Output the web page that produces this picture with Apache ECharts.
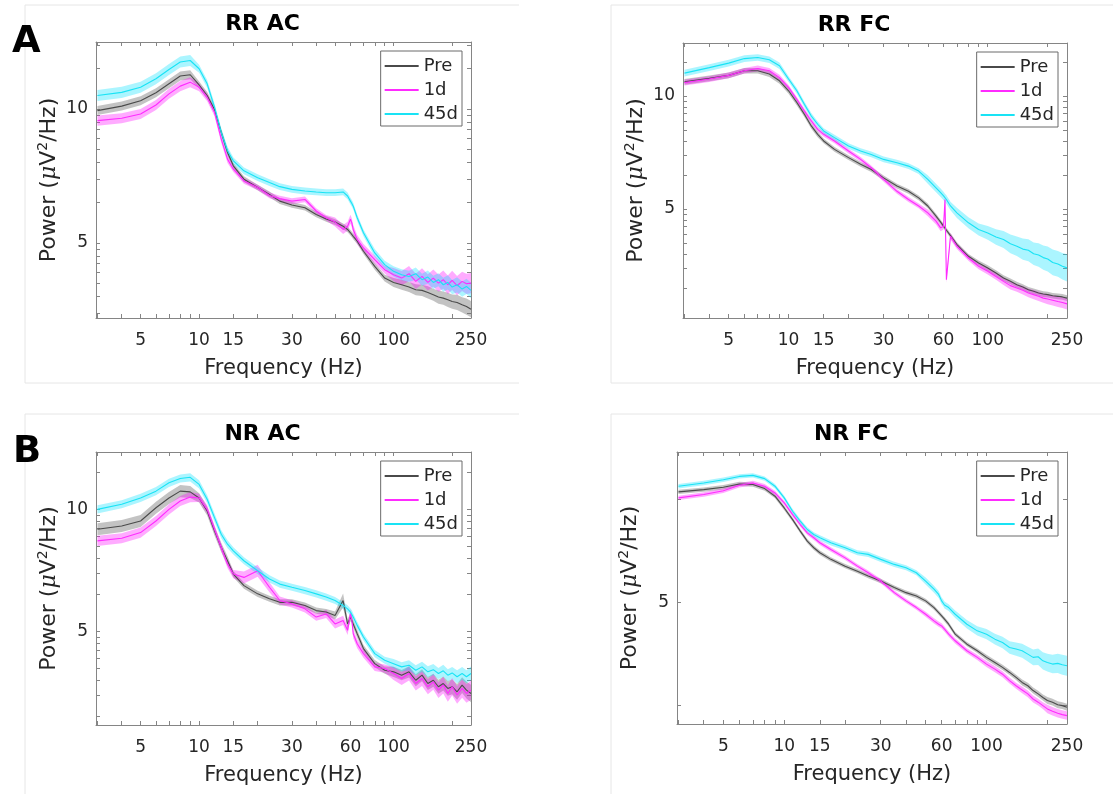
<!DOCTYPE html>
<html><head><meta charset="utf-8">
<script src="https://cdn.jsdelivr.net/npm/echarts@6/dist/echarts.min.js"></script>
<style>html,body{margin:0;padding:0;background:#fff}#c{width:1113px;height:794px}</style>
</head><body><div id="c"></div>
<script>
// ---------- DATA ----------
const freqs = [3,4,5,6,7,8,9,10,11,12,13,14,15,17,20,23,26,30,35,40,45,50,55,58,60,61,62,65,70,80,90,100,110,120,130,140,150,160,170,180,190,200,212,225,237,250];

const seriesNames = ['Pre', '1d', '45d'];
const panelTitles = ['RR AC', 'RR FC', 'NR AC', 'NR FC'];
const panelLetters = ['A', 'B'];
const xLabelValues = [5, 10, 15, 30, 60, 100, 250];
const xTickValues = [3,4,5,6,7,8,9,10,15,20,30,40,50,60,70,80,90,100,200,250];
const yLabelValues = [1, 10];
const yLabelTexts = ['5', '10'];

// RR AC
const rrAcPre = [9.72,10.5,11.5,13.2,15.4,17.6,18.0,15.1,12.6,9.89,6.68,4.73,3.76,2.99,2.59,2.30,2.05,1.92,1.83,1.63,1.51,1.43,1.33,1.26,1.19,1.155,1.12,1.03,0.866,0.668,0.546,0.507,0.487,0.468,0.447,0.442,0.427,0.410,0.394,0.387,0.376,0.365,0.359,0.345,0.335,0.320];
const rrAc1d = [8.18,8.51,9.17,10.7,12.96,14.8,15.85,14.5,12.2,9.44,5.96,4.22,3.55,2.90,2.59,2.26,2.14,2.05,2.11,1.73,1.54,1.43,1.26,1.33,1.50,1.41,1.26,1.06,0.917,0.750,0.631,0.579,0.546,0.589,0.516,0.562,0.507,0.546,0.501,0.531,0.487,0.525,0.479,0.516,0.495,0.501];
const rrAc45d = [12.6,13.3,14.5,16.8,19.7,22.4,23.0,19.95,15.4,10.3,6.68,4.87,4.10,3.45,3.07,2.82,2.63,2.51,2.44,2.40,2.37,2.37,2.40,2.24,2.05,1.97,1.88,1.54,1.19,0.841,0.688,0.613,0.579,0.562,0.589,0.531,0.556,0.507,0.531,0.487,0.507,0.468,0.487,0.452,0.473,0.442];
const rrAcPreErr = [0.08,0.08,0.08,0.08,0.08,0.08,0.08,0.06,0.06,0.06,0.06,0.06,0.05,0.05,0.05,0.05,0.05,0.05,0.05,0.05,0.05,0.05,0.05,0.05,0.05,0.05,0.05,0.05,0.05,0.06,0.06,0.08,0.09,0.09,0.10,0.10,0.11,0.11,0.12,0.12,0.13,0.13,0.14,0.14,0.15,0.15];
const rrAc1dErr = [0.09,0.09,0.09,0.09,0.09,0.09,0.09,0.07,0.07,0.07,0.07,0.07,0.05,0.05,0.05,0.05,0.05,0.05,0.05,0.05,0.05,0.08,0.08,0.08,0.08,0.08,0.08,0.08,0.07,0.07,0.07,0.12,0.13,0.14,0.14,0.15,0.15,0.16,0.16,0.17,0.17,0.18,0.18,0.18,0.19,0.19];
const rrAc45dErr = [0.10,0.10,0.10,0.10,0.10,0.10,0.10,0.07,0.07,0.07,0.07,0.07,0.06,0.06,0.06,0.06,0.06,0.06,0.06,0.06,0.06,0.06,0.06,0.06,0.06,0.06,0.06,0.06,0.06,0.07,0.07,0.09,0.10,0.10,0.11,0.11,0.12,0.12,0.12,0.13,0.13,0.13,0.14,0.14,0.14,0.14];

// RR FC
const rrFcPre = [13.3,14.3,15.2,16.7,16.7,15.6,13.6,11.1,8.73,6.88,5.42,4.57,3.99,3.36,2.84,2.48,2.23,1.88,1.59,1.43,1.25,1.06,0.861,0.762,0.702,0.673,0.647,0.579,0.482,0.380,0.332,0.299,0.270,0.244,0.228,0.213,0.203,0.192,0.186,0.180,0.176,0.174,0.170,0.168,0.166,0.162];
const rrFc1d = [13.1,14.1,15.2,16.7,17.5,16.7,14.5,11.9,9.33,7.36,6.00,5.06,4.57,3.99,3.25,2.74,2.31,1.82,1.43,1.21,1.06,0.922,0.778,0.678,0.702,1.21,0.236,0.571,0.467,0.367,0.310,0.280,0.252,0.228,0.209,0.199,0.190,0.180,0.174,0.168,0.162,0.159,0.155,0.151,0.148,0.144];
const rrFc45d = [15.9,17.8,19.5,21.4,21.9,20.9,18.5,14.1,11.1,8.43,6.64,5.61,4.89,4.27,3.60,3.25,3.03,2.74,2.56,2.39,2.16,1.82,1.53,1.39,1.30,1.25,1.21,1.06,0.922,0.752,0.656,0.612,0.564,0.535,0.490,0.467,0.440,0.430,0.400,0.390,0.370,0.360,0.335,0.325,0.310,0.300];
const rrFcPreErr = [0.06,0.06,0.06,0.06,0.06,0.06,0.06,0.06,0.06,0.06,0.06,0.06,0.05,0.05,0.05,0.05,0.05,0.05,0.05,0.05,0.05,0.05,0.05,0.05,0.05,0.05,0.05,0.05,0.05,0.05,0.05,0.06,0.06,0.06,0.06,0.06,0.06,0.06,0.06,0.06,0.06,0.06,0.06,0.06,0.06,0.06];
const rrFc1dErr = [0.06,0.06,0.06,0.06,0.06,0.06,0.06,0.05,0.05,0.05,0.05,0.05,0.05,0.05,0.05,0.05,0.05,0.05,0.05,0.05,0.05,0.07,0.07,0.07,0.07,0.07,0.07,0.07,0.06,0.06,0.06,0.07,0.07,0.08,0.08,0.08,0.09,0.09,0.10,0.10,0.10,0.11,0.11,0.12,0.12,0.12];
const rrFc45dErr = [0.07,0.07,0.07,0.07,0.07,0.07,0.07,0.06,0.06,0.06,0.06,0.06,0.06,0.06,0.06,0.06,0.06,0.06,0.06,0.06,0.06,0.09,0.09,0.09,0.09,0.09,0.09,0.09,0.11,0.12,0.13,0.15,0.17,0.19,0.21,0.22,0.24,0.25,0.26,0.27,0.28,0.29,0.30,0.30,0.31,0.32];

// NR AC
const nrAcPre = [6.87,7.31,8.03,10.3,12.4,14.1,13.9,12.4,9.69,6.66,4.87,3.79,2.95,2.37,2.03,1.85,1.73,1.73,1.63,1.48,1.44,1.35,1.79,1.15,1.31,1.27,1.15,0.957,0.723,0.544,0.481,0.466,0.438,0.466,0.398,0.438,0.374,0.398,0.352,0.374,0.341,0.352,0.320,0.363,0.330,0.310];
const nrAc1d = [5.52,5.80,6.45,8.03,10.0,11.7,12.6,12.4,10.0,6.87,4.87,3.56,2.95,2.77,3.14,2.30,1.79,1.68,1.53,1.31,1.39,1.15,1.23,1.02,1.39,1.23,0.957,0.792,0.657,0.512,0.496,0.452,0.411,0.452,0.374,0.411,0.352,0.386,0.330,0.363,0.310,0.352,0.301,0.341,0.310,0.330];
const nrAc45d = [10.0,11.0,12.4,14.1,16.5,17.9,18.3,16.0,12.1,8.55,6.25,5.18,4.57,3.79,3.14,2.69,2.44,2.30,2.16,2.03,1.91,1.79,1.63,1.53,1.44,1.39,1.31,1.12,0.899,0.657,0.580,0.544,0.512,0.528,0.481,0.512,0.466,0.486,0.452,0.475,0.438,0.457,0.425,0.452,0.425,0.452];
const nrAcPreErr = [0.12,0.12,0.12,0.12,0.12,0.12,0.12,0.09,0.09,0.09,0.09,0.09,0.06,0.06,0.06,0.06,0.06,0.06,0.06,0.06,0.06,0.08,0.14,0.10,0.08,0.08,0.08,0.08,0.07,0.07,0.07,0.10,0.10,0.11,0.12,0.12,0.13,0.13,0.14,0.14,0.15,0.15,0.16,0.16,0.17,0.18];
const nrAc1dErr = [0.10,0.10,0.10,0.10,0.10,0.10,0.10,0.08,0.08,0.08,0.08,0.08,0.08,0.12,0.12,0.10,0.08,0.07,0.07,0.07,0.08,0.09,0.09,0.09,0.09,0.09,0.09,0.09,0.08,0.08,0.08,0.13,0.13,0.14,0.14,0.15,0.15,0.16,0.16,0.17,0.17,0.18,0.18,0.19,0.19,0.20];
const nrAc45dErr = [0.08,0.08,0.08,0.08,0.08,0.08,0.08,0.08,0.08,0.08,0.08,0.08,0.07,0.07,0.07,0.07,0.07,0.07,0.07,0.07,0.07,0.07,0.07,0.07,0.07,0.07,0.07,0.07,0.07,0.07,0.07,0.09,0.09,0.10,0.10,0.10,0.11,0.11,0.11,0.12,0.12,0.12,0.13,0.13,0.13,0.14];

// NR FC
const nrFcPre = [11.9,12.5,13.2,14.2,14.0,12.8,10.8,8.30,6.40,4.94,3.95,3.41,3.05,2.63,2.26,2.02,1.81,1.62,1.40,1.25,1.16,1.04,0.895,0.800,0.743,0.716,0.690,0.617,0.494,0.395,0.341,0.294,0.262,0.235,0.210,0.188,0.168,0.156,0.140,0.130,0.120,0.112,0.108,0.102,0.100,0.0964];
const nrFc1d = [10.4,11.2,12.2,13.8,14.5,13.5,11.6,9.29,7.16,5.73,4.76,4.26,3.81,3.28,2.72,2.26,1.95,1.62,1.25,1.04,0.895,0.771,0.665,0.617,0.594,0.573,0.552,0.494,0.426,0.341,0.294,0.253,0.226,0.202,0.175,0.156,0.142,0.130,0.116,0.108,0.100,0.0929,0.0881,0.0843,0.0818,0.0800];
const nrFc45d = [13.5,14.5,15.6,16.8,17.2,16.0,13.5,10.4,7.71,6.17,5.13,4.58,4.26,3.81,3.41,3.05,2.94,2.63,2.35,2.18,1.95,1.62,1.35,1.20,1.04,1.00,0.949,0.895,0.771,0.617,0.532,0.494,0.442,0.410,0.367,0.354,0.341,0.316,0.294,0.298,0.272,0.262,0.253,0.257,0.249,0.244];
const nrFcPreErr = [0.05,0.05,0.05,0.05,0.05,0.05,0.05,0.05,0.05,0.05,0.05,0.05,0.05,0.05,0.05,0.05,0.05,0.05,0.05,0.05,0.05,0.05,0.05,0.05,0.05,0.05,0.05,0.05,0.05,0.05,0.05,0.06,0.06,0.06,0.06,0.06,0.07,0.07,0.07,0.07,0.07,0.08,0.08,0.08,0.08,0.08];
const nrFc1dErr = [0.05,0.05,0.05,0.05,0.05,0.05,0.05,0.05,0.05,0.05,0.05,0.05,0.05,0.05,0.05,0.05,0.05,0.05,0.05,0.05,0.05,0.06,0.06,0.06,0.06,0.06,0.06,0.06,0.06,0.06,0.06,0.07,0.07,0.07,0.07,0.07,0.08,0.08,0.08,0.08,0.08,0.10,0.10,0.10,0.10,0.10];
const nrFc45dErr = [0.05,0.05,0.05,0.05,0.05,0.05,0.05,0.05,0.05,0.05,0.05,0.05,0.06,0.06,0.06,0.06,0.06,0.06,0.06,0.06,0.06,0.08,0.08,0.08,0.08,0.08,0.08,0.08,0.09,0.10,0.11,0.12,0.13,0.14,0.15,0.16,0.17,0.18,0.19,0.20,0.21,0.22,0.23,0.24,0.25,0.25];

// ---------- LAYOUT / STYLE ----------
const FONT = 'DejaVu Sans';
const TXT = '#262626';
const AXC = '#858585';
const X_MIN = 2.95, X_MAX = 250;
const lineColors = ['#4a4a4a', '#ff2bff', '#19e3f5'];
const bandColors = ['rgba(105,105,105,0.40)', 'rgba(255,0,255,0.33)', 'rgba(0,225,255,0.33)'];

const panels = [
  { title: panelTitles[0], left: 96, top: 42, width: 375, height: 276, yMin: 0.275, yMax: 31.6,
    yTicks: [0.3,0.4,0.5,0.6,0.7,0.8,0.9,1,2,3,4,5,6,7,8,9,10,20,30], yLabels: [1,10],
    data: [[rrAcPre, rrAcPreErr], [rrAc1d, rrAc1dErr], [rrAc45d, rrAc45dErr]] },
  { title: panelTitles[1], left: 683, top: 43, width: 384, height: 275, yMin: 0.108, yMax: 29.4,
    yTicks: [0.2,0.3,0.4,0.5,0.6,0.7,0.8,0.9,1,2,3,4,5,6,7,8,9,10,20], yLabels: [1,10],
    data: [[rrFcPre, rrFcPreErr], [rrFc1d, rrFc1dErr], [rrFc45d, rrFc45dErr]] },
  { title: panelTitles[2], left: 96, top: 452, width: 375, height: 273, yMin: 0.171, yMax: 29.5,
    yTicks: [0.2,0.3,0.4,0.5,0.6,0.7,0.8,0.9,1,2,3,4,5,6,7,8,9,10,20], yLabels: [1,10],
    data: [[nrAcPre, nrAcPreErr], [nrAc1d, nrAc1dErr], [nrAc45d, nrAc45dErr]] },
  { title: panelTitles[3], left: 677, top: 452, width: 390, height: 272, yMin: 0.0663, yMax: 29.0,
    yTicks: [0.1,1,10], yLabels: [1],
    data: [[nrFcPre, nrFcPreErr], [nrFc1d, nrFc1dErr], [nrFc45d, nrFc45dErr]] }
];

const grids = [], xAxes = [], yAxes = [], series = [], titles = [], legends = [];

function yLabelText(v) {
  const i = yLabelValues.findIndex(t => Math.abs(t - v) < 1e-9);
  return i >= 0 ? yLabelTexts[i] : '';
}

panels.forEach((p, gi) => {
  grids.push({ left: p.left, top: p.top, width: p.width, height: p.height, containLabel: false });
  const ax = (pos) => ({
    gridIndex: gi, type: 'log', logBase: 10, min: X_MIN, max: X_MAX, position: pos,
    axisLine: { show: true, onZero: false, lineStyle: { color: AXC, width: 1 } },
    axisTick: { show: true, inside: true, length: 4, customValues: xTickValues, lineStyle: { color: AXC } },
    splitLine: { show: false }, minorTick: { show: false },
    axisLabel: pos === 'bottom'
      ? { show: true, customValues: xLabelValues, margin: 14, fontFamily: FONT, fontSize: 17, color: TXT,
          formatter: v => String(Math.round(v)) }
      : { show: false },
    name: pos === 'bottom' ? 'Frequency (Hz)' : '',
    nameLocation: 'middle', nameGap: 40,
    nameTextStyle: { fontFamily: FONT, fontSize: 21, color: TXT }
  });
  xAxes.push(ax('bottom'), ax('top'));
  const ay = (pos) => ({
    gridIndex: gi, type: 'log', logBase: 10, min: p.yMin, max: p.yMax, position: pos,
    axisLine: { show: true, onZero: false, lineStyle: { color: AXC, width: 1 } },
    axisTick: { show: true, inside: true, length: 4, customValues: p.yTicks, lineStyle: { color: AXC } },
    splitLine: { show: false }, minorTick: { show: false },
    axisLabel: pos === 'left'
      ? { show: true, customValues: p.yLabels, margin: 8, fontFamily: FONT, fontSize: 17, color: TXT, formatter: yLabelText }
      : { show: false },
    name: pos === 'left' ? 'Power ({mu|μ}V{sup|2}/Hz)' : '',
    nameLocation: 'middle', nameGap: 34,
    nameTextStyle: { fontFamily: FONT, fontSize: 22, color: TXT, lineHeight: 26,
      rich: { mu: { fontFamily: 'DejaVu Serif', fontStyle: 'italic', fontSize: 22, color: TXT, lineHeight: 26 },
              sup: { fontFamily: FONT, fontSize: 14, color: TXT, verticalAlign: 'top', lineHeight: 15 } } }
  });
  yAxes.push(ay('left'), ay('right'));

  p.data.forEach(([mean, err], si) => {
    series.push({
      type: 'custom', xAxisIndex: gi * 2, yAxisIndex: gi * 2, silent: true, clip: true, z: 2,
      data: [[freqs[0], mean[0]]],
      renderItem: (params, api) => {
        const up = [], lo = [];
        for (let i = 0; i < freqs.length; i++) {
          up.push(api.coord([freqs[i], mean[i] * (1 + err[i])]));
          lo.push(api.coord([freqs[i], mean[i] / (1 + err[i])]));
        }
        return { type: 'polygon', shape: { points: up.concat(lo.reverse()) }, style: { fill: bandColors[si] } };
      }
    });
    series.push({
      type: 'line', name: seriesNames[si], xAxisIndex: gi * 2, yAxisIndex: gi * 2, z: 3,
      showSymbol: false, symbol: 'none', clip: true,
      color: lineColors[si],
      lineStyle: { color: lineColors[si], width: 1.1 },
      itemStyle: { color: lineColors[si] },
      data: freqs.map((f, i) => [f, mean[i]])
    });
  });

  titles.push({ text: p.title, left: p.left + p.width / 2 - 21, top: p.top - 29, textAlign: 'center', padding: 0,
    textStyle: { fontFamily: FONT, fontSize: 22, fontWeight: 'bold', color: '#000' } });

  legends.push({
    data: seriesNames, orient: 'vertical', selectedMode: false,
    right: 1113 - (p.left + p.width) + 9, top: p.top + 9,
    backgroundColor: '#fff', borderColor: '#6b6b6b', borderWidth: 1, borderRadius: 0,
    padding: [6, 4, 3, 4], itemGap: 6, itemWidth: 34, itemHeight: 2, icon: 'rect',
    textStyle: { fontFamily: FONT, fontSize: 18, color: TXT }
  });
});

titles.push({ text: panelLetters[0], left: 12, top: 24, padding: 0,
  textStyle: { fontFamily: FONT, fontSize: 37, fontWeight: 'bold', color: '#000' } });
titles.push({ text: panelLetters[1], left: 13, top: 434, padding: 0,
  textStyle: { fontFamily: FONT, fontSize: 37, fontWeight: 'bold', color: '#000' } });

const frameColor = '#e6e6e6';
const graphics = [
  { type: 'polyline', shape: { points: [[519, 5], [25, 5], [25, 383], [519, 383]] }, style: { stroke: frameColor, lineWidth: 1, fill: null }, silent: true },
  { type: 'polyline', shape: { points: [[1113, 5], [611, 5], [611, 383], [1113, 383]] }, style: { stroke: frameColor, lineWidth: 1, fill: null }, silent: true },
  { type: 'polyline', shape: { points: [[519, 414], [25, 414], [25, 794]] }, style: { stroke: frameColor, lineWidth: 1, fill: null }, silent: true },
  { type: 'polyline', shape: { points: [[1113, 414], [611, 414], [611, 794]] }, style: { stroke: frameColor, lineWidth: 1, fill: null }, silent: true }
];

const chart = echarts.init(document.getElementById('c'), null, { renderer: 'canvas' });
chart.setOption({
  backgroundColor: '#fff', animation: false,
  title: titles, legend: legends, grid: grids, xAxis: xAxes, yAxis: yAxes, series: series,
  graphic: graphics
});
</script></body></html>
